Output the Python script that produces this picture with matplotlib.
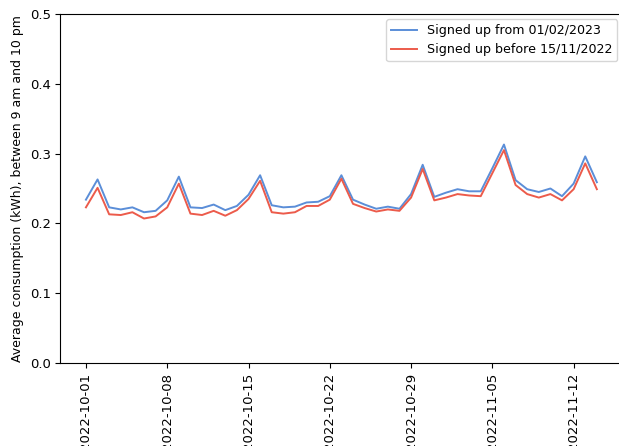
import matplotlib
matplotlib.use("Agg")
import matplotlib.pyplot as plt
import matplotlib.dates as mdates
import pandas as pd

dates = pd.date_range("2022-10-01", "2022-11-14", freq="D")

signed_up_new = [
    0.234, 0.263, 0.223, 0.220, 0.223, 0.216, 0.218, 0.233, 0.267,
    0.223, 0.222, 0.227, 0.219, 0.225, 0.241, 0.269, 0.226,
    0.223, 0.224, 0.230, 0.231, 0.239, 0.269, 0.234, 0.227,
    0.221, 0.224, 0.221, 0.242, 0.284, 0.238, 0.244, 0.249,
    0.246, 0.246, 0.279, 0.313, 0.262, 0.249, 0.245, 0.250,
    0.239, 0.257, 0.296, 0.259,
]
signed_up_old = [
    0.223, 0.251, 0.213, 0.212, 0.216, 0.207, 0.210, 0.223, 0.257,
    0.214, 0.212, 0.218, 0.211, 0.219, 0.235, 0.261, 0.216,
    0.214, 0.216, 0.225, 0.225, 0.234, 0.264, 0.228, 0.222,
    0.217, 0.220, 0.218, 0.237, 0.278, 0.233, 0.237, 0.242,
    0.240, 0.239, 0.272, 0.305, 0.255, 0.242, 0.237, 0.242,
    0.233, 0.249, 0.286, 0.249,
]

plt.rcParams["font.size"] = 9.5

fig = plt.figure(figsize=(6.19, 4.46), dpi=100)
ax = fig.add_axes([60.4 / 619, 1 - 363 / 446, 562 / 619, 349 / 446])

ax.plot(dates, signed_up_new, color="#5b8ed8", lw=1.4, label="Signed up from 01/02/2023")
ax.plot(dates, signed_up_old, color="#ec5b4b", lw=1.4, label="Signed up before 15/11/2022")

ax.set_ylim(0, 0.5)
ax.set_xticks(dates[::7])
ax.xaxis.set_major_formatter(mdates.DateFormatter("%Y-%m-%d"))
plt.setp(ax.get_xticklabels(), rotation=90)
ax.set_ylabel("Average consumption (kWh), between 9 am and 10 pm", fontsize=9)
ax.legend(loc="upper right", borderaxespad=0.4, fontsize=9.1)

fig.savefig("out.png", dpi=100)
